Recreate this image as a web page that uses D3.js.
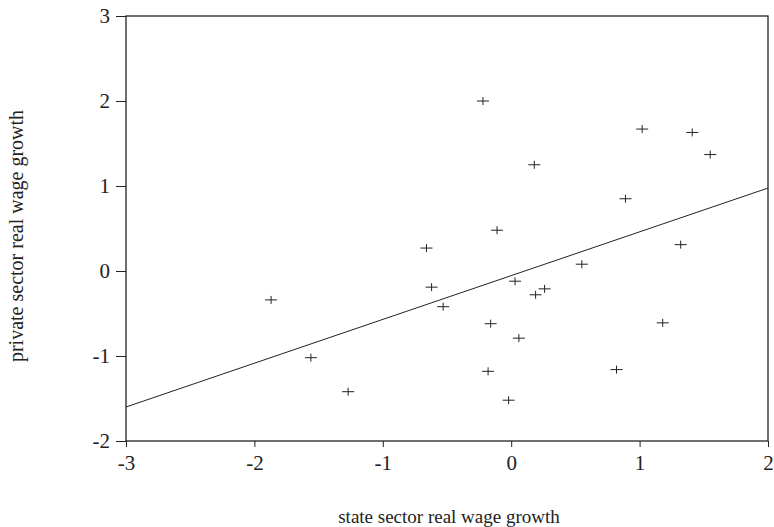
<!DOCTYPE html>
<html><head><meta charset="utf-8">
<script src="https://cdn.jsdelivr.net/npm/d3@7"></script>
<style>body{margin:0;background:#fff}svg{display:block}</style>
</head><body><svg id="c" width="774" height="527"></svg>
<script>
const stateGrowth = [-1.87,-1.56,-1.27,-0.66,-0.62,-0.53,-0.22,-0.11,-0.16,-0.18,0.03,0.06,-0.02,0.18,0.19,0.26,0.55,0.89,0.82,1.02,1.41,1.55,1.32,1.18];
const privateGrowth = [-0.34,-1.02,-1.42,0.27,-0.19,-0.42,2.0,0.48,-0.62,-1.18,-0.12,-0.79,-1.52,1.25,-0.28,-0.21,0.08,0.85,-1.16,1.67,1.63,1.37,0.31,-0.61];
const fitX = [-3, 2];
const fitY = [-1.6, 0.976];
const xTicks = [-3,-2,-1,0,1,2];
const yTicks = [-2,-1,0,1,2,3];

const svg = d3.select("#c");
const L=126,R=768,T=16,B=441;
const x = d3.scaleLinear().domain([-3,2]).range([L,R]);
const y = d3.scaleLinear().domain([-2,3]).range([B,T]);
const font = "'Liberation Serif','Times New Roman',serif";
const fmt = d => String(d);

svg.append("g").attr("transform",`translate(0,${B})`)
  .call(d3.axisBottom(x).tickValues(xTicks).tickSize(6).tickPadding(8).tickFormat(fmt))
  .call(g=>{g.select(".domain").remove();g.selectAll("line").attr("stroke","#222");
    g.selectAll("text").attr("font-family",font).attr("font-size",21).attr("fill","#222");});
svg.append("g").attr("transform",`translate(${L},0)`)
  .call(d3.axisLeft(y).tickValues(yTicks).tickSize(10).tickPadding(6).tickFormat(fmt))
  .call(g=>{g.select(".domain").remove();g.selectAll("line").attr("stroke","#222");
    g.selectAll("text").attr("font-family",font).attr("font-size",21).attr("fill","#222");});

svg.append("rect").attr("x",L).attr("y",T).attr("width",R-L).attr("height",B-T)
  .attr("fill","none").attr("stroke","#222").attr("stroke-width",1.3);

svg.append("line").attr("x1",x(fitX[0])).attr("y1",y(fitY[0])).attr("x2",x(fitX[1])).attr("y2",y(fitY[1]))
  .attr("stroke","#222").attr("stroke-width",1);

const pts = stateGrowth.map((v,i)=>[v,privateGrowth[i]]);
svg.append("g").selectAll("path").data(pts).join("path")
  .attr("d",d=>{const px=x(d[0]),py=y(d[1]);return `M${px-6},${py}H${px+6}M${px},${py-4}V${py+4}`;})
  .attr("stroke","#222").attr("stroke-width",1).attr("fill","none");

svg.append("text").attr("x",449).attr("y",523).attr("text-anchor","middle")
  .attr("font-family",font).attr("font-size",19).attr("fill","#222").text("state sector real wage growth");
svg.append("text").attr("transform",`translate(23,236) rotate(-90)`).attr("text-anchor","middle")
  .attr("font-family",font).attr("font-size",20).attr("fill","#222").text("private sector real wage growth");
</script></body></html>
